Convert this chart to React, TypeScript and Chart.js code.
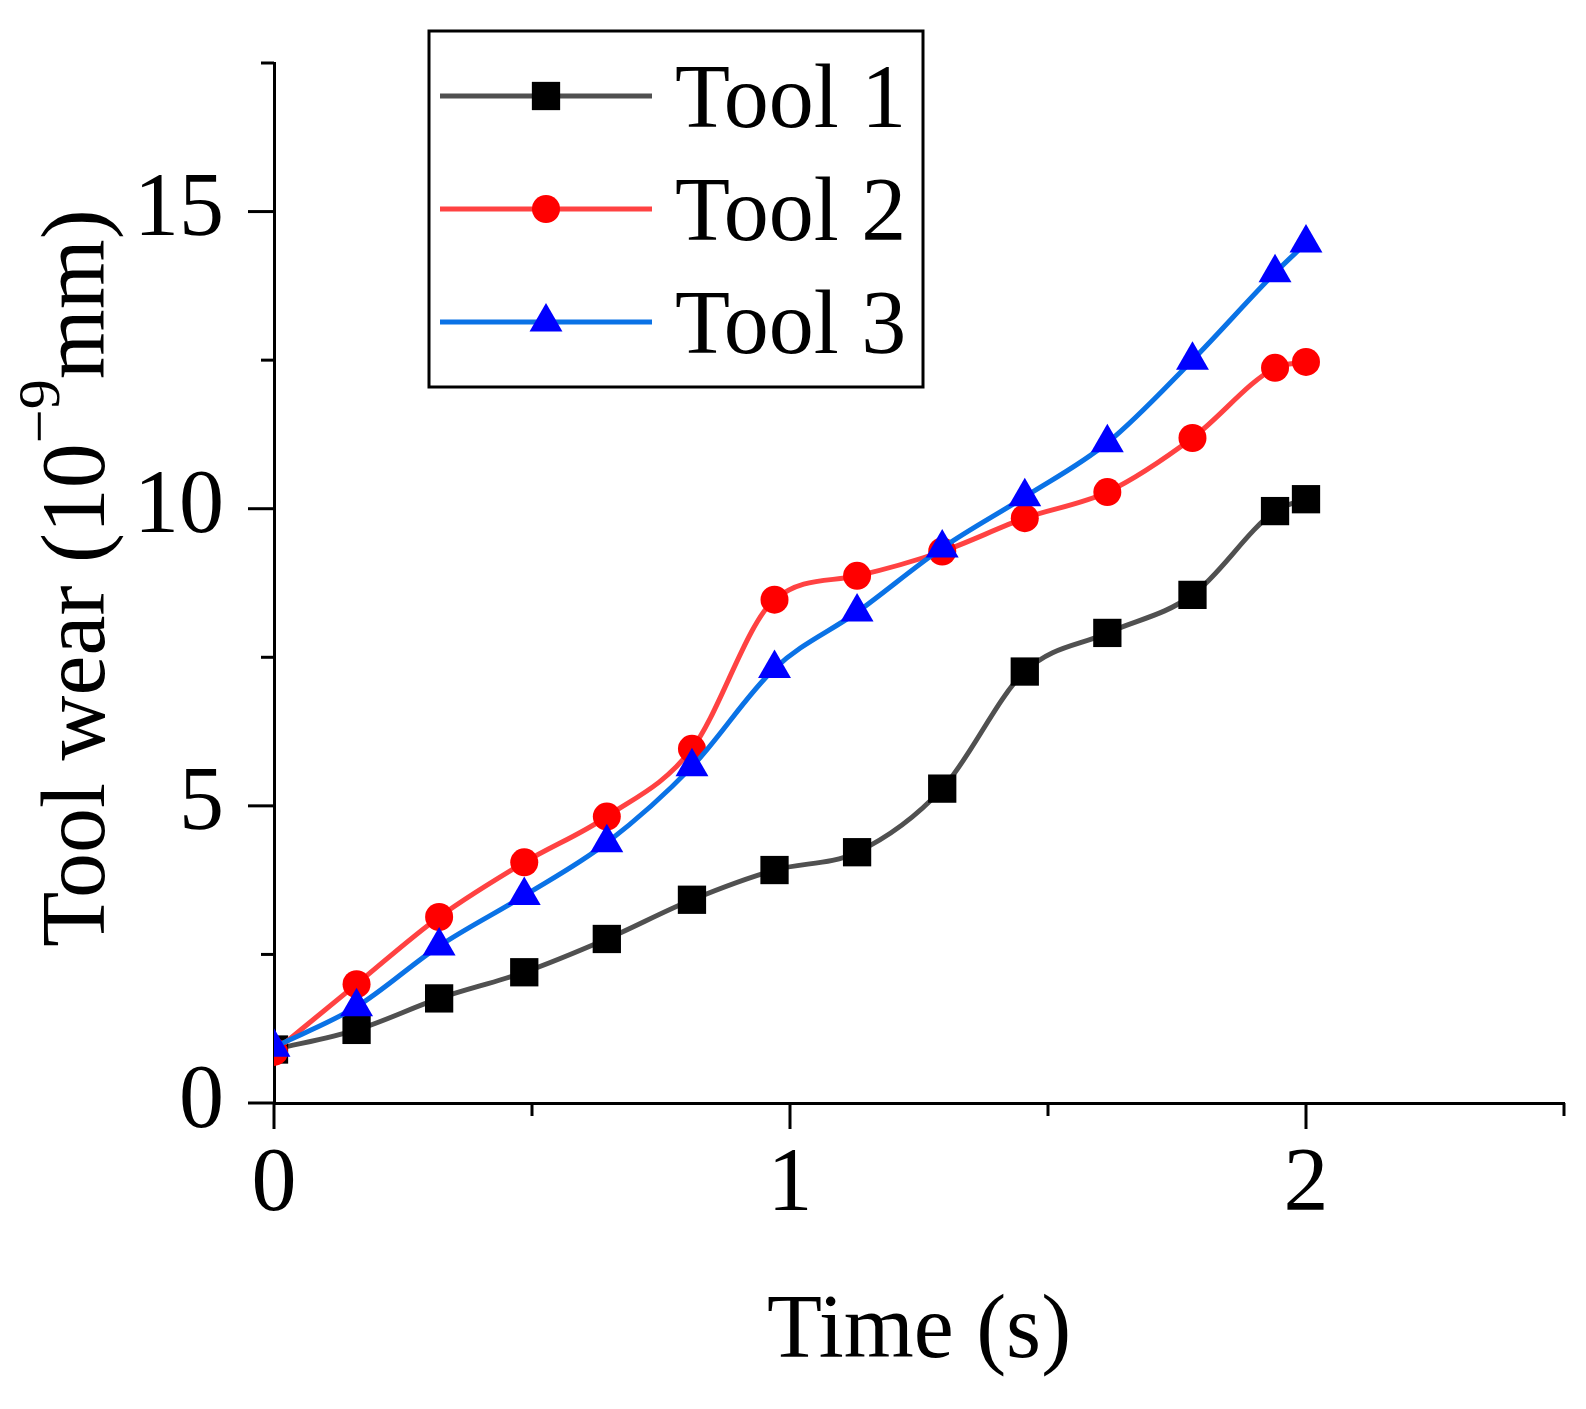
import { useEffect, useRef } from 'react';
import { Chart, registerables } from 'chart.js';
import { drawPoint } from 'chart.js/helpers';

Chart.register(...registerables);

// values
const timeS = [0, 0.16, 0.32, 0.485, 0.645, 0.81, 0.97, 1.13, 1.295, 1.455, 1.615, 1.78, 1.94, 2.0];
const tool1 = [0.9, 1.23, 1.76, 2.2, 2.76, 3.42, 3.92, 4.22, 5.29, 7.26, 7.91, 8.55, 9.96, 10.16];
const tool2 = [0.86, 2.0, 3.13, 4.05, 4.82, 5.96, 8.47, 8.87, 9.28, 9.84, 10.28, 11.19, 12.37, 12.47];
const tool3 = [0.94, 1.62, 2.64, 3.49, 4.38, 5.66, 7.31, 8.26, 9.34, 10.2, 11.11, 12.5, 13.97, 14.47];

const seriesNames = ['Tool 1', 'Tool 2', 'Tool 3'];
const xLabelled = [0, 1, 2];
const yLabelled = [0, 5, 10, 15];
const xMax = 2.5;
const yMax = 17.5;

const FONT = "'Liberation Serif', 'Times New Roman', serif";

const styles = [
  { line: '#505050', marker: '#000000', shape: 'rect', radius: 20 },
  { line: '#ff4242', marker: '#ff0000', shape: 'circle', radius: 14 },
  { line: '#0a72e6', marker: '#0000ff', shape: 'triangle', radius: 19 },
];

const isLabelledX = (v: number) => xLabelled.some((l) => Math.abs(l - v) < 1e-6);
const isLabelledY = (v: number) => yLabelled.some((l) => Math.abs(l - v) < 1e-6);

// outward major/minor ticks
const axisTicks = {
  id: 'axisTicks',
  afterDraw(chart: any) {
    const { ctx, chartArea, scales } = chart;
    ctx.save();
    ctx.strokeStyle = '#000';
    ctx.lineWidth = 3;
    scales.x.ticks.forEach((t: any) => {
      const len = isLabelledX(t.value) ? 26 : 13;
      const px = scales.x.getPixelForValue(t.value);
      ctx.beginPath();
      ctx.moveTo(px, chartArea.bottom);
      ctx.lineTo(px, chartArea.bottom + len);
      ctx.stroke();
    });
    scales.y.ticks.forEach((t: any) => {
      const len = isLabelledY(t.value) ? 26 : 13;
      const py = scales.y.getPixelForValue(t.value);
      ctx.beginPath();
      ctx.moveTo(chartArea.left, py);
      ctx.lineTo(chartArea.left - len, py);
      ctx.stroke();
    });
    ctx.restore();
  },
};

// y title with superscript exponent
const yTitle = {
  id: 'yTitle',
  afterDraw(chart: any) {
    const { ctx, chartArea } = chart;
    const parts = [
      { text: 'Tool wear (10', size: 90, rise: 0 },
      { text: '\u22129', size: 60, rise: 45 },
      { text: 'mm)', size: 90, rise: 0 },
    ];
    ctx.save();
    ctx.fillStyle = '#000';
    ctx.textBaseline = 'alphabetic';
    ctx.textAlign = 'left';
    let total = 0;
    const widths = parts.map((p) => {
      ctx.font = `${p.size}px ${FONT}`;
      const w = ctx.measureText(p.text).width;
      total += w;
      return w;
    });
    const cy = (chartArea.top + chartArea.bottom) / 2 - 5;
    ctx.translate(chartArea.left - 170, cy);
    ctx.rotate(-Math.PI / 2);
    let x = -total / 2;
    parts.forEach((p, i) => {
      ctx.font = `${p.size}px ${FONT}`;
      ctx.fillText(p.text, x, -p.rise);
      x += widths[i];
    });
    ctx.restore();
  },
};

// boxed legend inside the plot
const boxLegend = {
  id: 'boxLegend',
  afterDraw(chart: any) {
    const { ctx, chartArea } = chart;
    const left = chartArea.left + 155;
    const top = chartArea.top - 32;
    const w = 494;
    const h = 356;
    ctx.save();
    ctx.fillStyle = '#fff';
    ctx.fillRect(left, top, w, h);
    ctx.strokeStyle = '#000';
    ctx.lineWidth = 3;
    ctx.strokeRect(left, top, w, h);
    seriesNames.forEach((name, i) => {
      const st = styles[i];
      const cy = top + 65 + i * 113;
      ctx.strokeStyle = st.line;
      ctx.lineWidth = 5;
      ctx.beginPath();
      ctx.moveTo(left + 11, cy);
      ctx.lineTo(left + 223, cy);
      ctx.stroke();
      ctx.fillStyle = st.marker;
      drawPoint(ctx, { pointStyle: st.shape, radius: st.radius, rotation: 0, borderWidth: 0 } as any, left + 117, cy);
      ctx.fillStyle = '#000';
      ctx.font = `90px ${FONT}`;
      ctx.textBaseline = 'alphabetic';
      ctx.textAlign = 'left';
      ctx.fillText(name, left + 246, cy + 31);
    });
    ctx.restore();
  },
};

export default function App() {
  const canvasRef = useRef<HTMLCanvasElement>(null);
  const chartRef = useRef<Chart | null>(null);

  useEffect(() => {
    if (!canvasRef.current) return;
    const seriesValues = [tool1, tool2, tool3];

    chartRef.current = new Chart(canvasRef.current, {
      type: 'line',
      data: {
        datasets: seriesNames.map((name, i) => ({
          label: name,
          data: timeS.map((t, j) => ({ x: t, y: seriesValues[i][j] })),
          borderColor: styles[i].line,
          borderWidth: 5,
          backgroundColor: styles[i].marker,
          pointBackgroundColor: styles[i].marker,
          pointBorderWidth: 0,
          pointStyle: styles[i].shape as any,
          pointRadius: styles[i].radius,
          cubicInterpolationMode: 'monotone',
          fill: false,
          order: 2 - i,
        })),
      },
      options: {
        responsive: true,
        maintainAspectRatio: false,
        animation: false,
        events: [],
        layout: { padding: { top: 63, right: 22, left: 0, bottom: 0 } },
        plugins: {
          legend: { display: false },
          tooltip: { enabled: false },
        },
        scales: {
          x: {
            type: 'linear',
            min: 0,
            max: xMax,
            afterFit: (scale: any) => {
              scale.height = 306;
              scale.paddingLeft = 0;
              scale.paddingRight = 0;
            },
            grid: { drawOnChartArea: false, drawTicks: false },
            border: { display: true, color: '#000', width: 3 },
            ticks: {
              stepSize: 0.5,
              autoSkip: false,
              maxRotation: 0,
              padding: 29,
              color: '#000',
              font: { family: FONT, size: 90 },
              callback: (v: any) => (isLabelledX(Number(v)) ? String(Math.round(Number(v))) : ''),
            },
            title: {
              display: true,
              text: 'Time (s)',
              color: '#000',
              font: { family: FONT, size: 90 },
              padding: { top: 0, bottom: 22 },
            },
          },
          y: {
            type: 'linear',
            min: 0,
            max: yMax,
            afterFit: (scale: any) => {
              scale.width = 274;
              scale.paddingTop = 0;
              scale.paddingBottom = 0;
            },
            grid: { drawOnChartArea: false, drawTicks: false },
            border: { display: true, color: '#000', width: 3 },
            ticks: {
              stepSize: 2.5,
              autoSkip: false,
              padding: 50,
              color: '#000',
              font: { family: FONT, size: 90 },
              callback: (v: any) => (isLabelledY(Number(v)) ? String(Math.round(Number(v))) : ''),
            },
          },
        },
      },
      plugins: [axisTicks, yTitle, boxLegend],
    });

    return () => {
      if (chartRef.current) {
        chartRef.current.destroy();
        chartRef.current = null;
      }
    };
  }, []);

  return (
    <div style={{ position: 'absolute', left: 0, top: 0, width: 1586, height: 1409, background: '#fff' }}>
      <canvas ref={canvasRef} aria-label="Tool wear over time" />
    </div>
  );
}
